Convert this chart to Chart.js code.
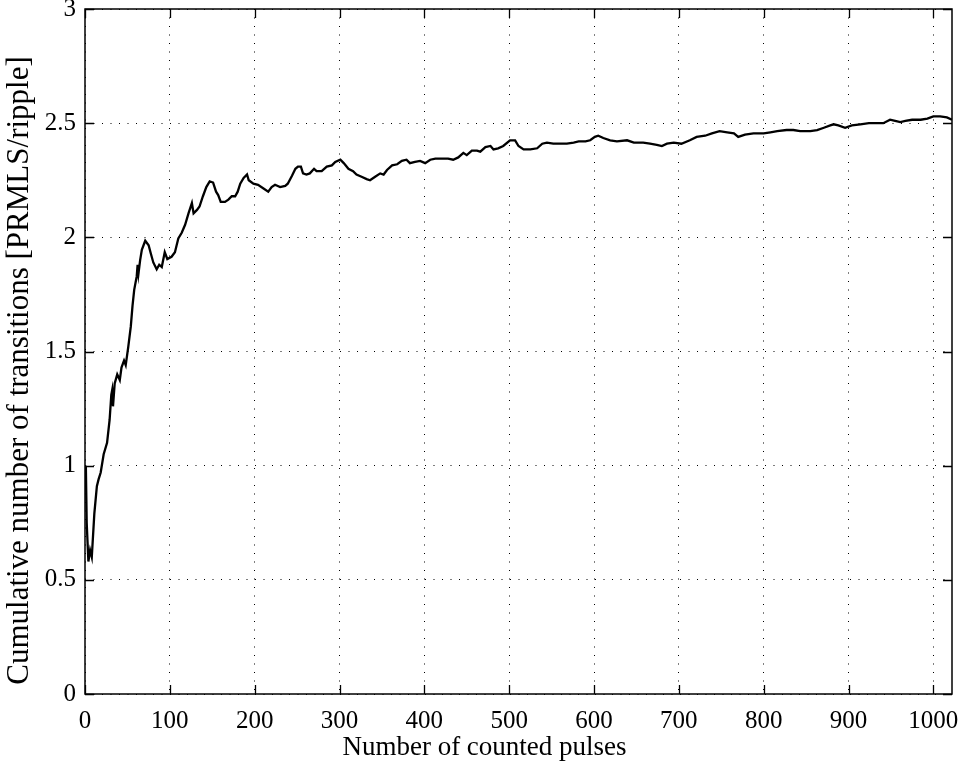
<!DOCTYPE html>
<html>
<head>
<meta charset="utf-8">
<script src="https://cdn.jsdelivr.net/npm/chart.js@4/dist/chart.umd.min.js"></script>
<style>
  html, body { margin: 0; padding: 0; background: #fff; }
  canvas { display: block; }
</style>
</head>
<body>
<canvas id="c" width="963" height="761"></canvas>
<script>
// Number of counted pulses
const pulses = [
  1, 2, 4, 6, 8, 11, 14, 16, 18.5, 22, 26, 29, 31, 32, 33, 35, 38, 41, 43, 46, 48,
  51, 54, 56, 58, 61, 62, 63, 65, 67, 71, 75, 77.5, 80.5, 84.5, 87.5, 90.5, 94, 97,
  102, 106, 110, 114, 118, 122, 126, 128, 132, 135, 139, 143, 147, 151, 154.5, 157,
  160, 165, 169, 173, 177, 180, 183, 187, 191, 193, 198.5, 204, 210, 216, 220, 224,
  230, 236, 239, 244, 248, 251, 254.5, 257, 261, 265, 270, 273, 279, 285, 291, 295,
  301, 305, 310.5, 316, 320, 326, 332, 336, 342, 348, 352, 356, 362, 368, 373.5, 379,
  383, 389, 395, 401, 407, 413, 421, 428, 434, 440, 446, 450, 456, 462, 466, 472,
  478, 481.5, 487, 493, 501, 507, 511, 517, 525, 533, 539, 544.5, 552, 560, 568, 576,
  582, 590, 595.5, 601, 605, 611, 619, 627, 639, 647, 658, 666, 674, 680, 686, 694,
  703, 713, 721, 731, 739, 748, 757, 765, 770, 778, 788, 800, 808, 816, 827, 835,
  843, 855, 863, 871, 878.5, 882.5, 888, 896, 904, 914, 924, 934, 941, 949, 955,
  961, 967, 975, 985, 993, 1000, 1008, 1016, 1022
];

// Cumulative number of transitions per ripple
const transitions = [
  1.00, 0.75, 0.58, 0.63, 0.60, 0.79, 0.91, 0.94, 0.97, 1.05, 1.10, 1.20, 1.31, 1.33, 1.26, 1.36, 1.40, 1.375, 1.43, 1.46, 1.44,
  1.52, 1.61, 1.70, 1.77, 1.83, 1.88, 1.84, 1.90, 1.945, 1.985, 1.965, 1.93, 1.89, 1.86, 1.88, 1.87, 1.935, 1.905,
  1.915, 1.935, 1.995, 2.02, 2.055, 2.105, 2.15, 2.105, 2.12, 2.135, 2.18, 2.22, 2.245, 2.24, 2.20, 2.185,
  2.155, 2.155, 2.165, 2.18, 2.18, 2.20, 2.235, 2.26, 2.275, 2.25, 2.235, 2.23, 2.215, 2.20, 2.22, 2.23,
  2.22, 2.225, 2.235, 2.27, 2.30, 2.31, 2.31, 2.28, 2.275, 2.28, 2.30, 2.29, 2.29, 2.31, 2.315, 2.33,
  2.34, 2.325, 2.30, 2.29, 2.275, 2.265, 2.255, 2.25, 2.265, 2.28, 2.275, 2.295, 2.315, 2.32, 2.335, 2.34,
  2.325, 2.33, 2.335, 2.325, 2.34, 2.345, 2.345, 2.345, 2.34, 2.35, 2.37, 2.36, 2.38, 2.38, 2.375, 2.395,
  2.40, 2.385, 2.39, 2.40, 2.425, 2.425, 2.40, 2.385, 2.385, 2.39, 2.41, 2.415, 2.41, 2.41, 2.41, 2.415,
  2.42, 2.42, 2.425, 2.44, 2.445, 2.435, 2.425, 2.42, 2.425, 2.415, 2.415, 2.41, 2.405, 2.40, 2.41, 2.415,
  2.41, 2.425, 2.44, 2.445, 2.455, 2.465, 2.46, 2.455, 2.44, 2.45, 2.455, 2.455, 2.46, 2.465, 2.47, 2.47,
  2.465, 2.465, 2.47, 2.48, 2.49, 2.495, 2.49, 2.48, 2.49, 2.495, 2.50, 2.50, 2.50, 2.515, 2.51,
  2.505, 2.51, 2.515, 2.515, 2.52, 2.53, 2.53, 2.525, 2.515
];

const xTicks = [0, 100, 200, 300, 400, 500, 600, 700, 800, 900, 1000];
const yTicks = [0, 0.5, 1, 1.5, 2, 2.5, 3];

const xTitle = 'Number of counted pulses';
const yTitle = 'Cumulative number of transitions [PRMLS/ripple]';

const X_MAX = 1022;
const FONT = '"Liberation Serif", "Times New Roman", serif';

// Box around the plot area with inward-pointing tick marks on all four sides
const framePlugin = {
  id: 'frame',
  afterDraw(chart) {
    const { ctx, chartArea: a, scales } = chart;
    const len = 9;
    ctx.save();
    ctx.strokeStyle = '#000';
    ctx.lineWidth = 1.3;
    ctx.beginPath();
    for (const v of xTicks) {
      const px = Math.round(scales.x.getPixelForValue(v)) + 0.5;
      ctx.moveTo(px, a.bottom); ctx.lineTo(px, a.bottom - len);
      ctx.moveTo(px, a.top); ctx.lineTo(px, a.top + len);
    }
    for (const v of yTicks) {
      const py = Math.round(scales.y.getPixelForValue(v)) + 0.5;
      ctx.moveTo(a.left, py); ctx.lineTo(a.left + len, py);
      ctx.moveTo(a.right, py); ctx.lineTo(a.right - len, py);
    }
    ctx.stroke();
    ctx.lineWidth = 1.5;
    ctx.strokeRect(a.left, a.top, a.right - a.left, a.bottom - a.top);
    ctx.restore();
  }
};

// Axis titles, placed relative to the plot area
const titlesPlugin = {
  id: 'axisTitles',
  afterDraw(chart) {
    const { ctx, chartArea: a } = chart;
    ctx.save();
    ctx.fillStyle = '#000';
    ctx.textAlign = 'center';
    ctx.textBaseline = 'middle';
    ctx.font = '27px ' + FONT;
    ctx.fillText(xTitle, (a.left + a.right) / 2 - 34, a.bottom + 54);
    ctx.translate(20, (a.top + a.bottom) / 2 + 19);
    ctx.rotate(-Math.PI / 2);
    ctx.font = '31px ' + FONT;
    ctx.fillText(yTitle, 0, 0);
    ctx.restore();
  }
};

const plainNumber = (v) => String(v);

const ctx = document.getElementById('c').getContext('2d');
new Chart(ctx, {
  type: 'line',
  data: {
    datasets: [{
      data: pulses.map((p, i) => ({ x: p, y: transitions[i] })),
      borderColor: '#000',
      borderWidth: 2.3,
      pointRadius: 0,
      tension: 0,
      fill: false
    }]
  },
  options: {
    responsive: false,
    devicePixelRatio: 1,
    animation: false,
    layout: { padding: { top: 9, right: 11, left: 0, bottom: 0 } },
    plugins: { legend: { display: false }, tooltip: { enabled: false } },
    scales: {
      x: {
        type: 'linear',
        min: 0,
        max: X_MAX,
        afterBuildTicks(scale) { scale.ticks = xTicks.map(v => ({ value: v })); },
        afterFit(scale) { scale.height = 67; scale.paddingLeft = 0; scale.paddingRight = 0; },
        ticks: {
          color: '#000',
          font: { family: FONT, size: 25 },
          padding: 12,
          maxRotation: 0,
          autoSkip: false,
          callback: plainNumber
        },
        grid: { color: '#000', lineWidth: 1, drawTicks: false },
        border: { display: false, dash: [1, 7.5] },
        title: { display: false }
      },
      y: {
        type: 'linear',
        min: 0,
        max: 3,
        afterBuildTicks(scale) { scale.ticks = yTicks.map(v => ({ value: v })); },
        afterFit(scale) { scale.width = 85; scale.paddingTop = 0; scale.paddingBottom = 0; },
        ticks: {
          color: '#000',
          font: { family: FONT, size: 25 },
          padding: 9,
          callback: plainNumber
        },
        grid: { color: '#000', lineWidth: 1, drawTicks: false },
        border: { display: false, dash: [1, 7.5] },
        title: { display: false }
      }
    }
  },
  plugins: [framePlugin, titlesPlugin]
});
</script>
</body>
</html>
